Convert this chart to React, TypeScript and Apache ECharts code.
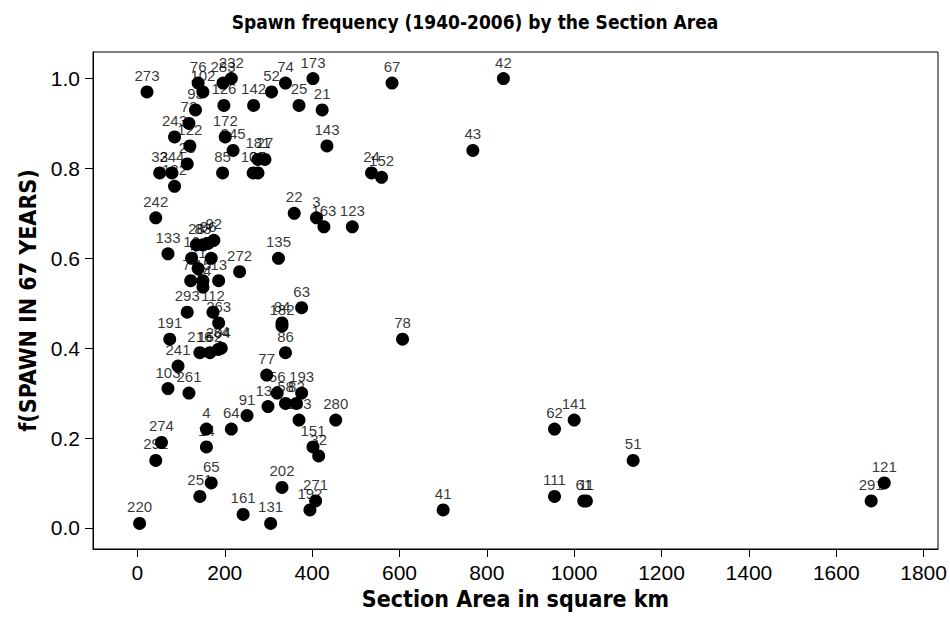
import React, { useEffect, useRef } from "react";
import * as echarts from "echarts";

const ids = [
  "273", "76", "102", "283", "232", "93", "126", "142", "52", "74", "173", "25", "21", "67", "42",
  "72", "243", "122", "172", "245", "143", "43", "23", "181", "27", "33", "244", "132", "85", "101",
  "35", "24", "152", "242", "22", "3", "163", "123", "133", "28", "83", "96", "92", "16", "57",
  "31", "71", "13", "15", "54", "272", "135", "293", "112", "263", "63", "84", "182", "191", "78",
  "216", "162", "204", "34", "86", "241", "77", "103", "261", "56", "193", "58", "82", "136", "183",
  "91", "280", "4", "64", "274", "14", "292", "151", "32", "65", "251", "202", "271", "192", "161",
  "131", "220", "41", "62", "141", "51", "111", "61", "11", "121", "291",
];

const areas = [
  22, 139, 150, 196, 215, 133, 198, 266, 307, 339, 402, 370, 423, 583, 838,
  118, 85, 120, 201, 219, 434, 768, 114, 276, 292, 51, 79, 85, 195, 265,
  276, 536, 559, 42, 359, 410, 427, 492, 70, 135, 150, 162, 175, 124, 169,
  139, 122, 186, 150, 150, 234, 323, 114, 173, 186, 376, 331, 331, 74, 607,
  143, 166, 185, 192, 339, 93, 296, 70, 118, 320, 376, 339, 364, 299, 370,
  251, 454, 158, 215, 55, 158, 42, 402, 415, 169, 143, 331, 408, 395, 242,
  305, 5, 700, 955, 1000, 1135, 955, 1022, 1028, 1710, 1680,
];

const freqs = [
  0.97, 0.99, 0.97, 0.99, 1.0, 0.93, 0.94, 0.94, 0.97, 0.99, 1.0, 0.94, 0.93, 0.99, 1.0,
  0.9, 0.87, 0.85, 0.87, 0.84, 0.85, 0.84, 0.81, 0.82, 0.82, 0.79, 0.79, 0.76, 0.79, 0.79,
  0.79, 0.79, 0.78, 0.69, 0.7, 0.69, 0.67, 0.67, 0.61, 0.63, 0.63, 0.633, 0.64, 0.6, 0.6,
  0.577, 0.55, 0.55, 0.55, 0.536, 0.57, 0.6, 0.48, 0.48, 0.456, 0.49, 0.456, 0.449, 0.42, 0.42,
  0.39, 0.39, 0.397, 0.4, 0.39, 0.36, 0.34, 0.31, 0.3, 0.3, 0.3, 0.277, 0.277, 0.27, 0.24,
  0.25, 0.24, 0.22, 0.22, 0.19, 0.18, 0.15, 0.18, 0.16, 0.1, 0.07, 0.09, 0.06, 0.04, 0.03,
  0.01, 0.01, 0.04, 0.22, 0.24, 0.15, 0.07, 0.06, 0.06, 0.1, 0.06,
];

const xTicks = [0, 200, 400, 600, 800, 1000, 1200, 1400, 1600, 1800];
const yTicks = [0, 0.2, 0.4, 0.6, 0.8, 1.0];

export default function App() {
  const ref = useRef<HTMLDivElement>(null);
  useEffect(() => {
    if (!ref.current) return;
    const chart = echarts.init(ref.current, null, { renderer: "svg" });
    const data = ids.map((id, i) => ({ name: id, value: [areas[i], freqs[i]] }));
    chart.setOption({
      animation: false,
      backgroundColor: "#fff",
      title: {
        text: "Spawn frequency (1940-2006) by the Section Area",
        left: "center",
        top: 7,
        textStyle: { fontFamily: "'DejaVu Sans Condensed', 'DejaVu Sans'", fontWeight: "bold", fontSize: 19, color: "#000" },
      },
      grid: {
        left: 93,
        right: 12,
        top: 52,
        bottom: 75,
        show: true,
        borderColor: "#000",
        borderWidth: 1,
        containLabel: false,
      },
      xAxis: {
        type: "value",
        min: -101.7,
        max: 1833,
        name: "Section Area in square km",
        nameLocation: "middle",
        nameGap: 36,
        nameTextStyle: { fontFamily: "'DejaVu Sans Condensed', 'DejaVu Sans'", fontWeight: "bold", fontSize: 23, color: "#000" },
        axisLine: { show: true, onZero: false, lineStyle: { color: "#000", width: 1 } },
        axisTick: { show: true, length: 8, lineStyle: { color: "#000" }, customValues: xTicks },
        axisLabel: {
          customValues: xTicks,
          formatter: (v: number) => String(Math.round(v)),
          fontFamily: "Liberation Sans",
          fontSize: 21,
          color: "#000",
          margin: 13,
        },
        splitLine: { show: false },
      },
      yAxis: {
        type: "value",
        min: -0.047,
        max: 1.059,
        name: "f(SPAWN IN 67 YEARS)",
        nameLocation: "middle",
        nameGap: 52,
        nameTextStyle: { fontFamily: "'DejaVu Sans Condensed', 'DejaVu Sans'", fontWeight: "bold", fontSize: 23, color: "#000" },
        axisLine: { show: true, onZero: false, lineStyle: { color: "#000", width: 1 } },
        axisTick: { show: true, length: 8, lineStyle: { color: "#000" }, customValues: yTicks },
        axisLabel: {
          customValues: yTicks,
          formatter: (v: number) => v.toFixed(1),
          fontFamily: "Liberation Sans",
          fontSize: 21,
          color: "#000",
          margin: 13,
        },
        splitLine: { show: false },
      },
      series: [
        {
          type: "scatter",
          data,
          symbol: "circle",
          symbolSize: 0.01,
          z: 1,
          silent: true,
          label: {
            show: true,
            position: "top",
            distance: 9,
            formatter: (p: any) => p.name,
            fontFamily: "Liberation Sans",
            fontSize: 15,
            color: "#000",
          },
          itemStyle: { color: "rgba(0,0,0,0)" },
        },
        {
          type: "scatter",
          data,
          symbol: "circle",
          symbolSize: 13,
          z: 2,
          itemStyle: { color: "#000", opacity: 1 },
          label: { show: false },
        },
      ],
    });
    return () => chart.dispose();
  }, []);
  return (
    <div
      ref={ref}
      style={{ position: "fixed", left: 0, top: 0, width: 950, height: 624 }}
    />
  );
}
